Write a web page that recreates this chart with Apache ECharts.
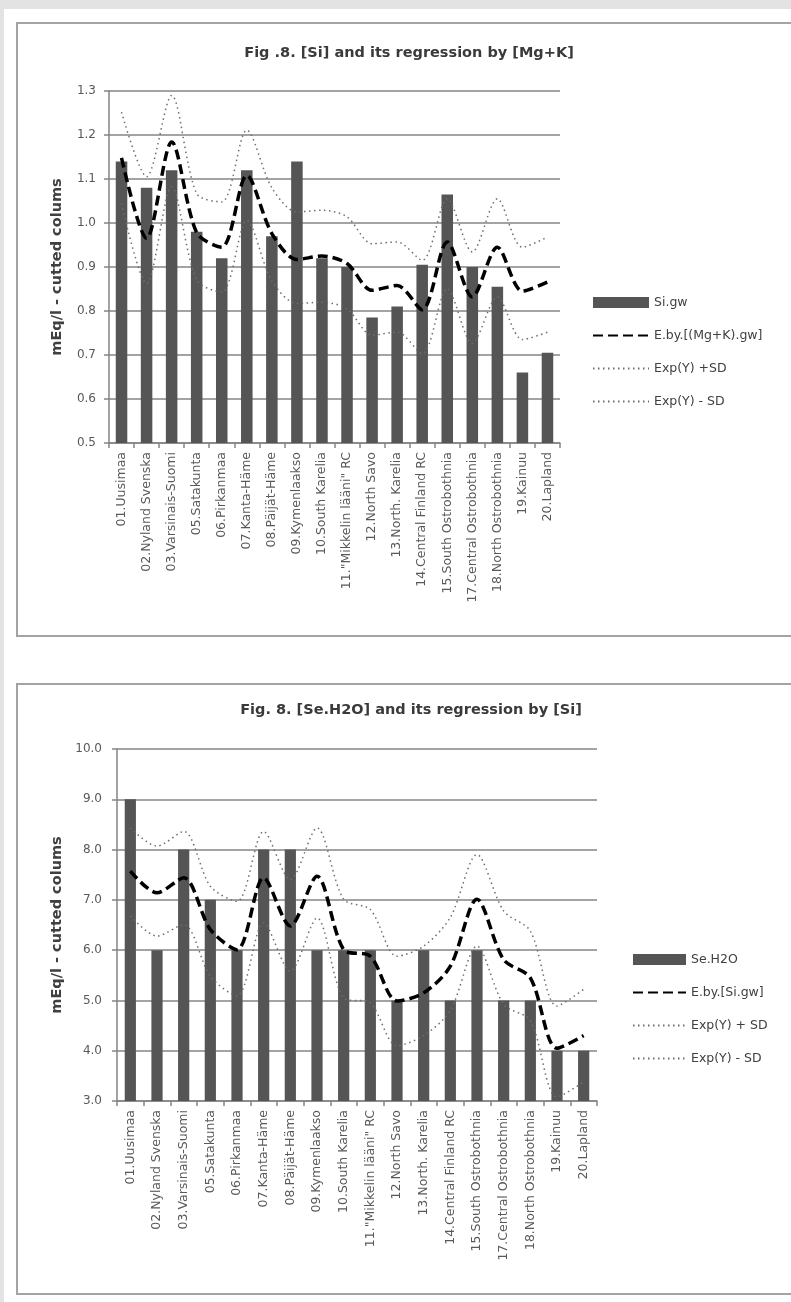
<!DOCTYPE html>
<html>
<head>
<meta charset="utf-8">
<script src="https://cdn.jsdelivr.net/npm/echarts@6/dist/echarts.min.js"></script>
<style>
  html, body { margin: 0; padding: 0; width: 791px; height: 1302px; overflow: hidden; background: #e3e3e3; }
  #page { position: absolute; left: 4px; top: 9px; width: 787px; height: 1293px; background: #ffffff; }
  .frame { position: absolute; left: 16px; width: 900px; border: 2px solid #a3a3a3; box-sizing: border-box; }
  #f1 { top: 22px; height: 615px; }
  #f2 { top: 683px; height: 612px; }
  .chart { position: absolute; left: 0; width: 791px; }
  #c1 { top: 0; height: 660px; }
  #c2 { top: 660px; height: 642px; }
</style>
</head>
<body>
<div id="page"></div>
<div class="frame" id="f1"></div>
<div class="frame" id="f2"></div>
<div class="chart" id="c1"></div>
<div class="chart" id="c2"></div>
<script>
// Regions (04 and 16 are absent from the survey)
const regions = [
  '01.Uusimaa', '02.Nyland Svenska', '03.Varsinais-Suomi', '05.Satakunta',
  '06.Pirkanmaa', '07.Kanta-Häme', '08.Päijät-Häme', '09.Kymenlaakso',
  '10.South Karelia', '11."Mikkelin lääni" RC', '12.North Savo', '13.North. Karelia',
  '14.Central Finland RC', '15.South Ostrobothnia', '17.Central Ostrobothnia',
  '18.North Ostrobothnia', '19.Kainuu', '20.Lapland'
];

// Fig 8a: [Si] in groundwater and its regression by [Mg+K]
const siGw    = [1.14, 1.08, 1.12, 0.98, 0.92, 1.12, 0.97, 1.14, 0.92, 0.90, 0.785, 0.81, 0.905, 1.065, 0.90, 0.855, 0.66, 0.705];
const siFit   = [1.148, 0.965, 1.184, 0.978, 0.945, 1.108, 0.976, 0.917, 0.925, 0.908, 0.847, 0.858, 0.803, 0.957, 0.832, 0.945, 0.845, 0.866];
const siUpper = [1.252, 1.105, 1.290, 1.067, 1.048, 1.211, 1.080, 1.025, 1.029, 1.014, 0.953, 0.957, 0.915, 1.055, 0.934, 1.055, 0.945, 0.968];
const siLower = [1.044, 0.862, 1.082, 0.870, 0.843, 1.006, 0.868, 0.817, 0.820, 0.805, 0.745, 0.752, 0.703, 0.851, 0.726, 0.832, 0.735, 0.752];

// Fig 8b: [Se.H2O] and its regression by [Si]
const seH2O   = [9, 6, 8, 7, 6, 8, 8, 6, 6, 6, 5, 6, 5, 6, 5, 5, 4, 4];
const seFit   = [7.57, 7.14, 7.44, 6.41, 6.01, 7.44, 6.48, 7.47, 6.01, 5.88, 4.99, 5.15, 5.68, 7.01, 5.81, 5.45, 4.05, 4.30];
const seUpper = [8.43, 8.07, 8.36, 7.27, 6.97, 8.36, 7.40, 8.43, 7.01, 6.81, 5.88, 6.08, 6.65, 7.90, 6.78, 6.38, 4.89, 5.22];
const seLower = [6.68, 6.28, 6.51, 5.48, 5.09, 6.54, 5.58, 6.64, 5.05, 4.95, 4.10, 4.30, 4.80, 6.08, 4.92, 4.60, 3.08, 3.38];

const FONT = 'DejaVu Sans';
const GRID_COLOR = '#858585';
const NO_MARKER = 'rgba(0,0,0,0)';

function buildOption(c) {
  return {
    animation: false,
    textStyle: { fontFamily: FONT },
    title: {
      text: c.title, left: c.titleX, top: c.titleTop, textAlign: 'center',
      textStyle: { fontFamily: FONT, fontSize: 14.5, fontWeight: 'bold', color: '#3a3a3a' }
    },
    legend: {
      orient: 'vertical', left: c.legendLeft, top: c.legendTop,
      itemWidth: c.legendItemWidth, itemHeight: 11, itemGap: 20,
      textStyle: { fontFamily: FONT, fontSize: 12.5, color: '#404040', lineHeight: 11 },
      data: [{ name: c.names[0], icon: 'rect' }, c.names[1], c.names[2], c.names[3]]
    },
    grid: { left: c.grid.left, top: c.grid.top, width: c.grid.width, height: c.grid.height },
    xAxis: {
      type: 'category', data: regions, boundaryGap: true,
      axisLine: { lineStyle: { color: GRID_COLOR, width: 1.5 } },
      axisTick: { show: true, interval: 0, length: 5, lineStyle: { color: GRID_COLOR, width: 1.5 } },
      axisLabel: { interval: 0, rotate: 90, fontSize: 12.5, color: '#595959', margin: 9, fontFamily: FONT }
    },
    yAxis: {
      type: 'value', min: c.yMin, max: c.yMax, interval: c.yStep,
      name: 'mEq/l - cutted colums', nameLocation: 'middle', nameRotate: 90, nameGap: c.nameGap,
      nameTextStyle: { fontFamily: FONT, fontSize: 14.5, fontWeight: 'bold', color: '#404040' },
      axisLine: { show: true, lineStyle: { color: GRID_COLOR, width: 1.5 } },
      axisTick: { show: true, length: 5, lineStyle: { color: GRID_COLOR, width: 1.5 } },
      splitLine: { show: true, lineStyle: { color: GRID_COLOR, width: 1.5 } },
      axisLabel: { formatter: v => v.toFixed(1), fontSize: 12, color: '#595959', margin: c.labelMargin, fontFamily: FONT }
    },
    series: [
      { type: 'bar', name: c.names[0], data: c.bars, barWidth: c.barWidth,
        itemStyle: { color: '#555555' }, silent: true },
      { type: 'line', name: c.names[1], data: c.fit, smooth: 0.3, symbol: 'none', z: 4,
        itemStyle: { color: NO_MARKER },
        lineStyle: { color: '#000000', width: 3.5, type: [10, 5] } },
      { type: 'line', name: c.names[2], data: c.upper, smooth: 0.3, symbol: 'none', z: 3,
        itemStyle: { color: NO_MARKER },
        lineStyle: { color: '#6e6e6e', width: 1.5, type: [1.5, 3.5] } },
      { type: 'line', name: c.names[3], data: c.lower, smooth: 0.3, symbol: 'none', z: 3,
        itemStyle: { color: NO_MARKER },
        lineStyle: { color: '#6e6e6e', width: 1.5, type: [1.5, 3.5] } }
    ]
  };
}

const chart1 = echarts.init(document.getElementById('c1'), null, { renderer: 'canvas' });
chart1.setOption(buildOption({
  title: 'Fig .8. [Si] and its regression by [Mg+K]', titleX: 404, titleTop: 41,
  names: ['Si.gw', 'E.by.[(Mg+K).gw]', 'Exp(Y) +SD', 'Exp(Y) - SD'],
  legendLeft: 587, legendTop: 291, legendItemWidth: 56,
  grid: { left: 109, top: 91, width: 451, height: 352 },
  yMin: 0.5, yMax: 1.3, yStep: 0.1, nameGap: 44, labelMargin: 13,
  bars: siGw, fit: siFit, upper: siUpper, lower: siLower, barWidth: '46%'
}));

const chart2 = echarts.init(document.getElementById('c2'), null, { renderer: 'canvas' });
chart2.setOption(buildOption({
  title: 'Fig. 8. [Se.H2O] and its regression by [Si]', titleX: 406, titleTop: 38,
  names: ['Se.H2O', 'E.by.[Si.gw]', 'Exp(Y) + SD', 'Exp(Y) - SD'],
  legendLeft: 627, legendTop: 288, legendItemWidth: 53,
  grid: { left: 117, top: 89, width: 480, height: 352 },
  yMin: 3, yMax: 10, yStep: 1, nameGap: 52, labelMargin: 15,
  bars: seH2O, fit: seFit, upper: seUpper, lower: seLower, barWidth: '42%'
}));
</script>
</body>
</html>
